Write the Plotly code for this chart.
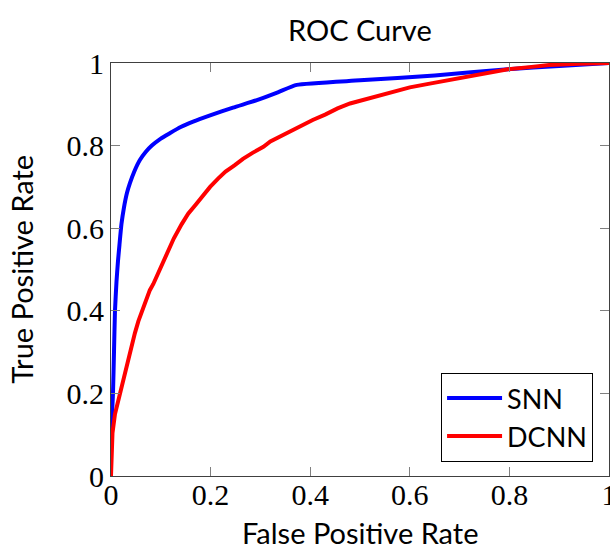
import plotly.graph_objects as go

snn_fpr = [0.0, 0.0, 0.002, 0.004, 0.006, 0.008, 0.011, 0.014, 0.017, 0.021, 0.026, 0.032, 0.038, 0.047, 0.058, 0.07, 0.082, 0.1, 0.118, 0.14, 0.165, 0.199, 0.245, 0.293, 0.335, 0.373, 0.5, 0.65, 0.797, 0.9, 1.0]
snn_tpr = [0.0, 0.10, 0.15, 0.2, 0.3, 0.4, 0.47, 0.52, 0.56, 0.61, 0.65, 0.685, 0.709, 0.738, 0.765, 0.785, 0.80, 0.817, 0.83, 0.845, 0.858, 0.873, 0.892, 0.91, 0.929, 0.947, 0.958, 0.97, 0.985, 0.993, 1.0]

dcnn_fpr = [0.0, 0.001, 0.003, 0.008, 0.013, 0.018, 0.024, 0.031, 0.04, 0.048, 0.055, 0.062, 0.07, 0.078, 0.085, 0.092, 0.1, 0.112, 0.126, 0.142, 0.155, 0.17, 0.185, 0.199, 0.215, 0.23, 0.248, 0.265, 0.285, 0.306, 0.32, 0.34, 0.36, 0.38, 0.405, 0.43, 0.455, 0.48, 0.51, 0.54, 0.57, 0.60, 0.64, 0.681, 0.74, 0.797, 0.84, 0.88, 0.94, 1.0]
dcnn_tpr = [0.0, 0.05, 0.104, 0.15, 0.175, 0.2, 0.235, 0.265, 0.31, 0.346, 0.375, 0.40, 0.425, 0.45, 0.465, 0.483, 0.505, 0.54, 0.575, 0.61, 0.635, 0.657, 0.68, 0.70, 0.72, 0.737, 0.752, 0.768, 0.783, 0.797, 0.81, 0.822, 0.836, 0.848, 0.862, 0.875, 0.89, 0.902, 0.912, 0.922, 0.932, 0.941, 0.95, 0.959, 0.972, 0.985, 0.99, 0.995, 0.998, 1.0]

tick_vals = [0, 0.2, 0.4, 0.6, 0.8, 1]
tick_text = ["0", "0.2", "0.4", "0.6", "0.8", "1"]

SANS = "Lato, DejaVu Sans, sans-serif"
SERIF = "Liberation Serif, DejaVu Serif, serif"
FS = 29

fig = go.Figure()
fig.add_trace(go.Scatter(x=snn_fpr, y=snn_tpr, mode="lines", name="SNN",
                         line=dict(color="#0000ff", width=4, shape="spline", smoothing=0.5)))
fig.add_trace(go.Scatter(x=dcnn_fpr, y=dcnn_tpr, mode="lines", name="DCNN",
                         line=dict(color="#ff0000", width=4)))

axis_common = dict(
    range=[0, 1], tickvals=tick_vals, ticktext=tick_text, automargin=False,
    showgrid=False, zeroline=False, showline=True, linecolor="#404040", linewidth=1.2,
    mirror="allticks", ticks="inside", ticklen=9, tickcolor="#808080", tickwidth=1,
    tickfont=dict(family=SERIF, size=30, color="black"), ticklabeloverflow="allow",
)

fig.update_layout(
    width=610, height=546,
    margin=dict(l=111, r=1, t=63, b=70, autoexpand=False),
    plot_bgcolor="white", paper_bgcolor="white",
    xaxis=dict(axis_common, ticklabelstandoff=-8),
    yaxis=dict(axis_common),
    legend=dict(x=0.968, y=0.034, xanchor="right", yanchor="bottom",
                bgcolor="white", bordercolor="black", borderwidth=1,
                font=dict(family=SANS, size=27, color="black"),
                itemwidth=55, tracegroupgap=0),
    showlegend=True,
    annotations=[
        dict(text="ROC Curve", xref="paper", yref="paper", x=0.5, y=1.08,
             xanchor="center", yanchor="middle", showarrow=False,
             font=dict(family=SANS, size=FS, color="black")),
        dict(text="False Positive Rate", xref="paper", yref="paper", x=0.5, y=-0.138,
             xanchor="center", yanchor="middle", showarrow=False,
             font=dict(family=SANS, size=FS, color="black")),
        dict(text="True Positive Rate", xref="paper", yref="paper", x=-0.18, y=0.5,
             xanchor="center", yanchor="middle", showarrow=False, textangle=-90,
             font=dict(family=SANS, size=FS, color="black")),
    ],
)

fig.write_html("out.html", config={"displayModeBar": False},
               post_script="document.body.style.margin='0';document.body.style.padding='0';")
